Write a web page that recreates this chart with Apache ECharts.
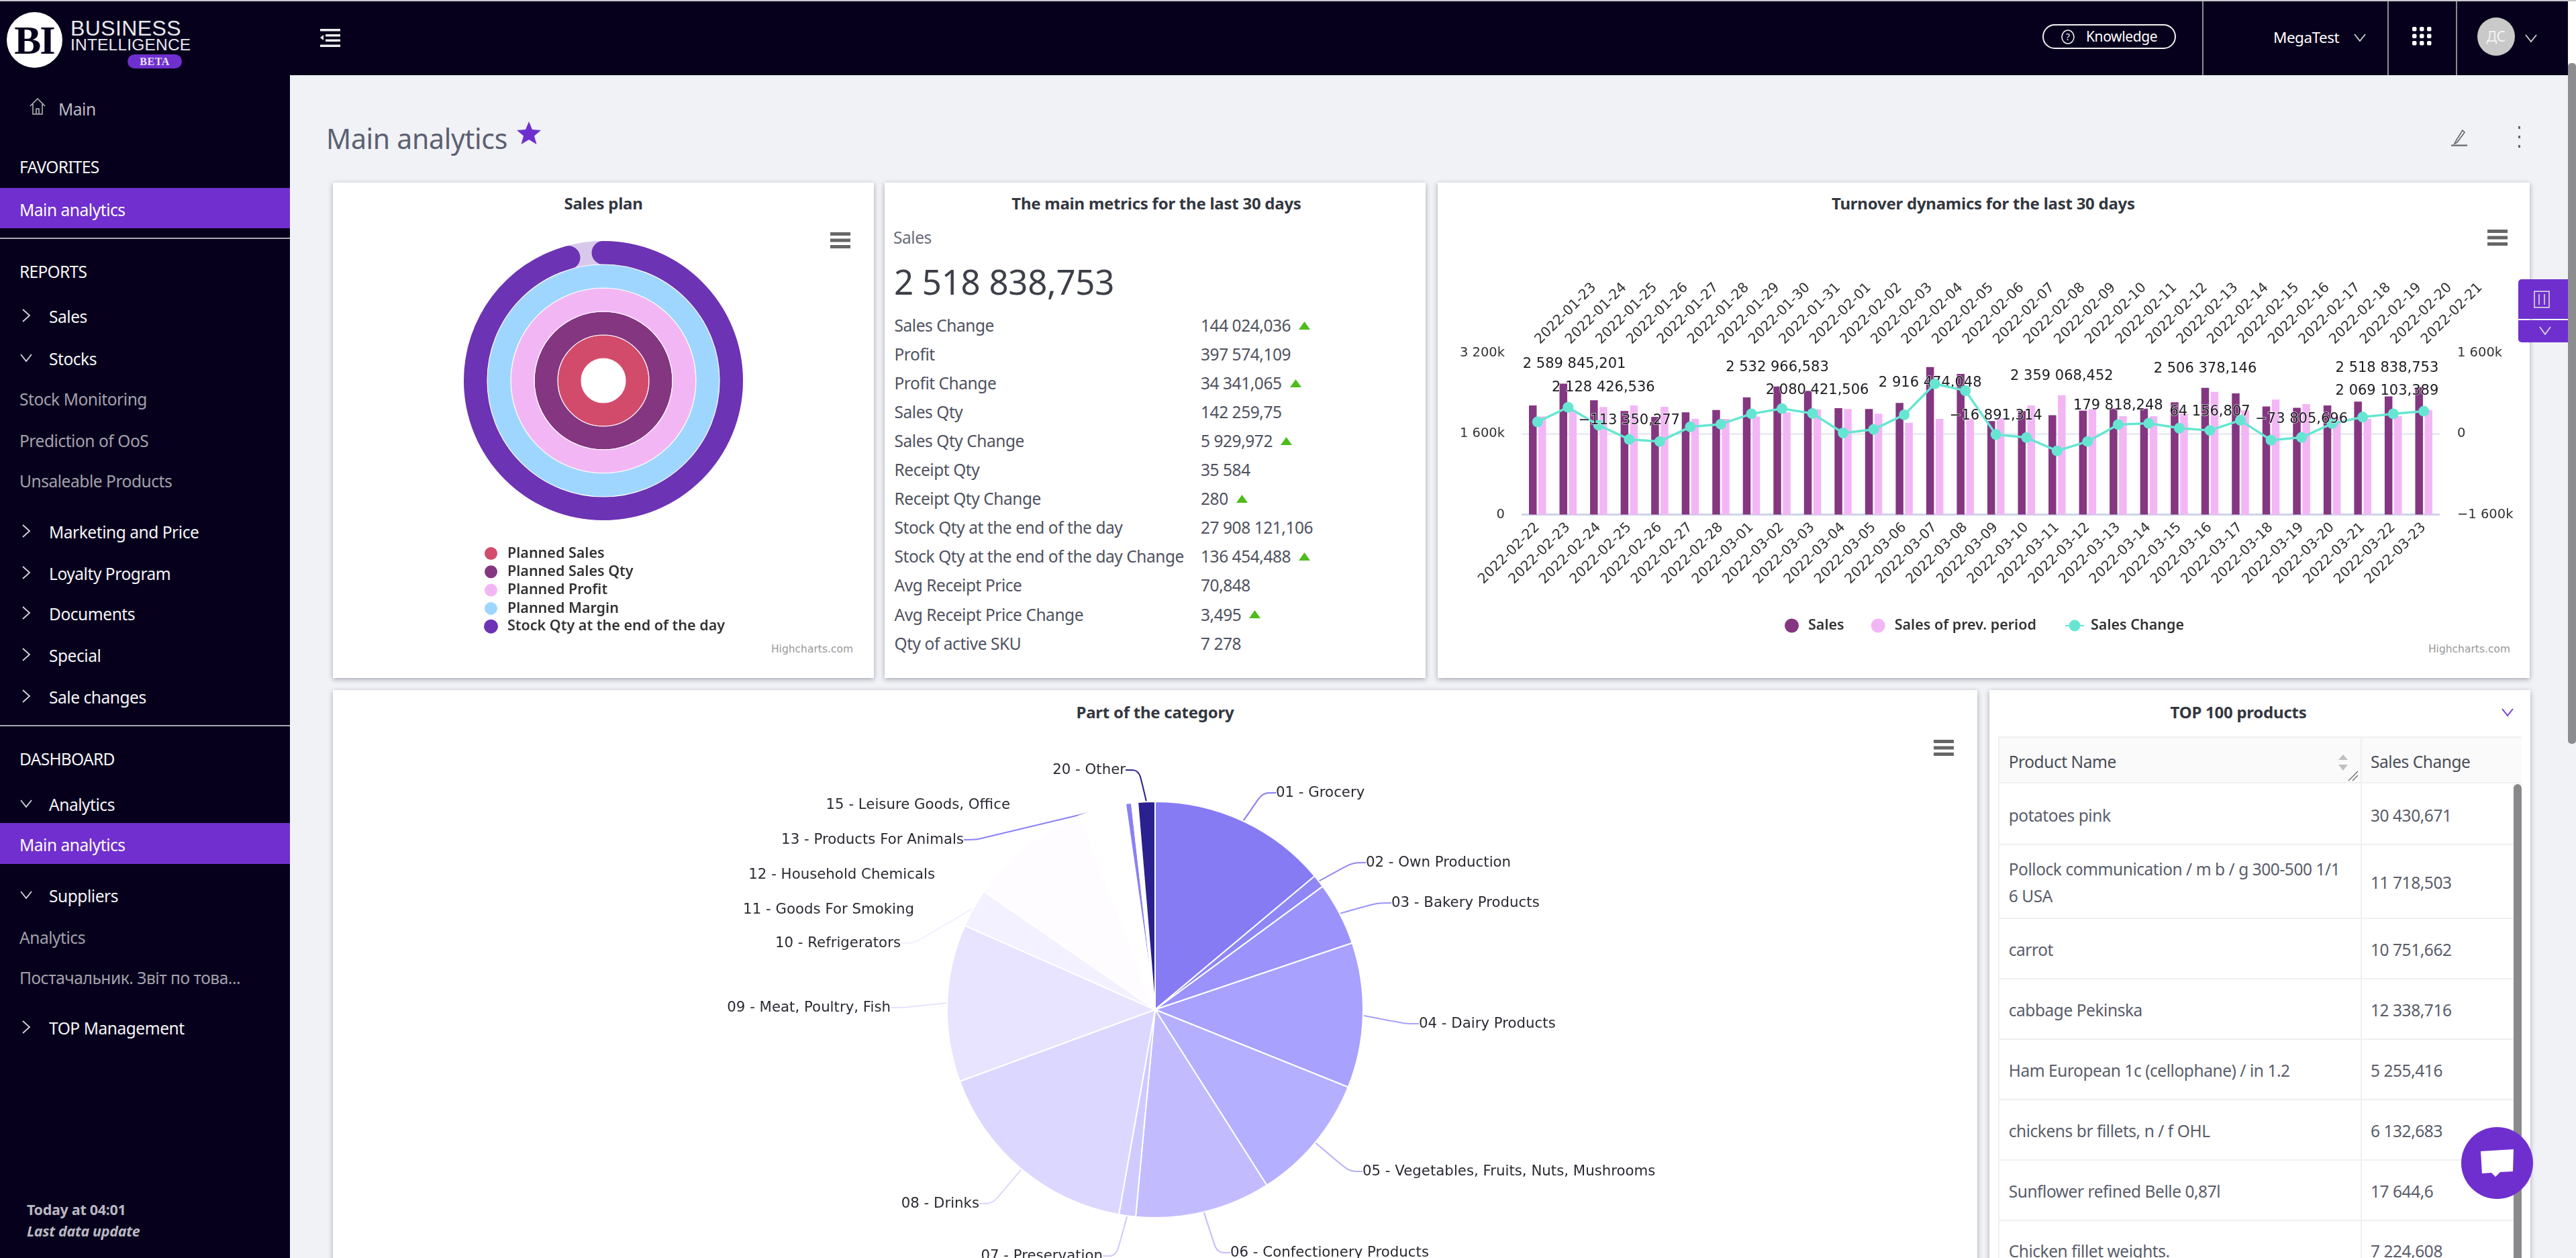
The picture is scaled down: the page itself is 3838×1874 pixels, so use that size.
<!DOCTYPE html>
<html><head><meta charset="utf-8"><title>Main analytics</title>
<script src="https://cdn.jsdelivr.net/npm/echarts@6/dist/echarts.min.js"></script>
<style>
html,body{margin:0;padding:0;width:3838px;height:1874px;overflow:hidden;background:#f0f2f6;font-family:"Noto Sans",sans-serif}
#ui,#chart,#top{position:absolute;left:0;top:0;width:3838px;height:1874px}
#chart{z-index:2}#ui{z-index:1}#top{z-index:3;pointer-events:none}
.t{position:absolute;white-space:nowrap;line-height:1.2}
.b{position:absolute;box-sizing:border-box}
.card{position:absolute;background:#fff;box-shadow:0 2px 7px rgba(40,40,60,.38)}
svg{position:absolute;overflow:visible}
</style></head><body>
<div id="ui"></div><div id="chart"></div><div id="top"></div>
<script>
// ---------- chart data ----------
const planNames=["Planned Sales","Planned Sales Qty","Planned Profit","Planned Margin","Stock Qty at the end of the day"];
const planValues=[100,100,100,100,95.6];
const currentDates=["2022-02-22","2022-02-23","2022-02-24","2022-02-25","2022-02-26","2022-02-27","2022-02-28","2022-03-01","2022-03-02","2022-03-03","2022-03-04","2022-03-05","2022-03-06","2022-03-07","2022-03-08","2022-03-09","2022-03-10","2022-03-11","2022-03-12","2022-03-13","2022-03-14","2022-03-15","2022-03-16","2022-03-17","2022-03-18","2022-03-19","2022-03-20","2022-03-21","2022-03-22","2022-03-23"];
const previousDates=["2022-01-23","2022-01-24","2022-01-25","2022-01-26","2022-01-27","2022-01-28","2022-01-29","2022-01-30","2022-01-31","2022-02-01","2022-02-02","2022-02-03","2022-02-04","2022-02-05","2022-02-06","2022-02-07","2022-02-08","2022-02-09","2022-02-10","2022-02-11","2022-02-12","2022-02-13","2022-02-14","2022-02-15","2022-02-16","2022-02-17","2022-02-18","2022-02-19","2022-02-20","2022-02-21"];
const salesValues=[2157000,2589845.201,2260000,2048000,1932000,2022000,2067000,2318000,2532966.583,2447000,2106000,2087000,2209000,2916474.048,2782000,1850000,2048000,1964000,2054000,2093000,2093000,2222000,2506378.146,2396000,2138000,2112000,2157000,2235000,2338000,2518838.753];
const prevValues=[1938000,2054000,2128426.536,2157000,2132000,1893000,1893000,1938000,2022000,2080421.506,2087000,1996000,1816000,1893000,1893000,1900000,2157000,2359068.452,2080000,1945000,1945000,1996000,2428000,2061000,2273000,2183000,1932000,1893000,1945000,2069103.389];
const changeValues=[232000,522000,167000,-113350.277,-155000,135000,187000,393000,496000,399000,13000,84000,373000,985000,850000,-16891.314,-77000,-341000,-155000,179818.248,206000,109000,64156.807,264000,-129000,-73805.696,200000,328000,393000,444000];
const salesLabelled=[1,8,13,22,29];
const prevLabelled=[2,9,17,29];
const changeLabelled=[3,15,19,22,25];
const categoryNames=["01 - Grocery","02 - Own Production","03 - Bakery Products","04 - Dairy Products","05 - Vegetables, Fruits, Nuts, Mushrooms","06 - Confectionery Products","07 - Preservation","08 - Drinks","09 - Meat, Poultry, Fish","10 - Refrigerators","11 - Goods For Smoking","12 - Household Chemicals","13 - Products For Animals","15 - Leisure Goods, Office","20 - Other"];
const categoryShares=[13.9,1.0,4.9,11.25,9.9,10.5,1.3,16.6,12.2,3.0,9.5,3.6,0.47,0.47,1.33];
const metricNames=["Sales Change","Profit","Profit Change","Sales Qty","Sales Qty Change","Receipt Qty","Receipt Qty Change","Stock Qty at the end of the day","Stock Qty at the end of the day Change","Avg Receipt Price","Avg Receipt Price Change","Qty of active SKU"];
const metricValues=["144 024,036","397 574,109","34 341,065","142 259,75","5 929,972","35 584","280","27 908 121,106","136 454,488","70,848","3,495","7 278"];
const metricRising=[true,false,true,false,true,false,true,false,true,false,true,false];
const productNames=["potatoes pink","Pollock communication / m b / g 300-500 1/1<br>6 USA","carrot","cabbage Pekinska","Ham European 1c (cellophane) / in 1.2","chickens br fillets, n / f OHL","Sunflower refined Belle 0,87l","Chicken fillet weights."];
const productChanges=["30 430,671","11 718,503","10 751,662","12 338,716","5 255,416","6 132,683","17 644,6","7 224,608"];

// ---------- style constants ----------
const PURPLE="#6f2fcf",DARK="#07001c",TXT="#4f5260",UI=24.5;
const planColors=["#d34b6b","#843681","#f3b6f5","#9fd6ff","#6c33b4"];
const categoryColors=["#867bf3","#9087f6","#9b93fb","#a8a1fe","#b5afff","#c2bcff","#cfcaff","#dcd7ff","#e8e3ff","#f3f0ff","#fefcff","#ffffff","#8a80f5","#ffffff","#2a2090"];
// label anchor: [x, y, align]
const pieLabelPlace=[[1901,1181,"left"],[2035,1285,"left"],[2073,1345,"left"],[2114,1525,"left"],[2030,1745,"left"],[1833,1866,"left"],[1643,1871,"right"],[1459,1793,"right"],[1327,1501,"right"],[1342,1405,"right"],[1362,1355,"right"],[1393,1303,"right"],[1436,1251,"right"],[1505,1199,"right"],[1677,1147,"right"]];

// ---------- DOM helpers ----------
const ui=document.getElementById("ui"),topLayer=document.getElementById("top");
function T(s,x,y,o={},p=ui){const e=document.createElement("div");e.className="t";e.innerHTML=s;
  const a=o.align||"left";const tx=a==="center"?"-50%":a==="right"?"-100%":"0";
  e.style.cssText+=`left:${x}px;top:${y+1.5}px;transform:translate(${tx},-50%);font-size:${o.size||UI}px;color:${o.color||TXT};font-weight:${o.weight||400};letter-spacing:${o.ls!==undefined?o.ls:-0.45}px;font-family:${o.font||'"Noto Sans"'};font-style:${o.style||"normal"};`;
  if(o.lh)e.style.lineHeight=o.lh+"px";p.appendChild(e);return e;}
function B(x,y,w,h,bg,o={},p=ui){const e=document.createElement("div");e.className=o.cls||"b";e.style.cssText+=`left:${x}px;top:${y}px;width:${w}px;height:${h}px;background:${bg};${o.css||""}`;p.appendChild(e);return e;}
function S(x,y,w,h,inner,p=ui){const e=document.createElement("div");e.style.cssText=`position:absolute;left:${x}px;top:${y}px;width:${w}px;height:${h}px`;
  e.innerHTML=`<svg width="${w}" height="${h}" viewBox="0 0 ${w} ${h}">${inner}</svg>`;p.appendChild(e);}
const chevR=(x,y,c="#d8d8de")=>S(x-6,y-10,12,20,`<path d="M1 1 L11 10 L1 19" fill="none" stroke="${c}" stroke-width="1.8"/>`);
const chevD=(x,y,c="#d8d8de")=>S(x-9,y-6,18,12,`<path d="M1 1 L9 11 L17 1" fill="none" stroke="${c}" stroke-width="1.8"/>`);
const burger=(x,y)=>S(x-15,y-12,30,24,`<rect y="0" width="30" height="5" fill="#666"/><rect y="9.5" width="30" height="5" fill="#666"/><rect y="19" width="30" height="5" fill="#666"/>`);

// ---------- frame ----------
B(0,0,3838,2,"#c9c9cc");
B(0,2,3826,110,DARK);
B(0,112,432,1762,DARK);
B(3826,2,12,92,"#fff");B(3826,94,12,1014,"#8d8d8f",{css:"border-radius:5px"});

// logo
B(10,18,83,83,"#fff",{css:"border-radius:50%"});
T("BI",51,58,{align:"center",size:60,weight:700,color:DARK,font:'"Liberation Serif"',ls:-2});
T("BUSINESS",105,40,{size:32,color:"#e8e8ee",ls:0.4,font:'"Liberation Sans"'});
T("INTELLIGENCE",105,65,{size:24.5,color:"#e8e8ee",ls:0.2,font:'"Liberation Sans"'});
B(190,81,81,21,PURPLE,{css:"border-radius:11px"});
T("BETA",230.5,90,{align:"center",size:16,weight:700,color:"#e9e4f6",font:'"Liberation Serif"',ls:0.5});
S(477,43,30,27,`<rect x="0" width="30" height="3.5" fill="#eee"/><rect x="8" y="8" width="22" height="3.5" fill="#eee"/><rect x="8" y="15.5" width="22" height="3.5" fill="#eee"/><rect x="0" y="23.5" width="30" height="3.5" fill="#eee"/><path d="M0 13 L5 9 L5 17Z" fill="#eee"/>`);

// header right
B(3043,36,199,37,"transparent",{css:"border:2px solid #f2f2f2;border-radius:19px"});
S(3071,44,20,22,`<ellipse cx="10" cy="11" rx="9" ry="10" fill="none" stroke="#eee" stroke-width="1.6"/><text x="10" y="16" font-size="14" fill="#eee" text-anchor="middle" font-family="Noto Sans">?</text>`);
T("Knowledge",3108,53.5,{size:21,color:"#fff",ls:-0.4});
B(3281,2,2,110,"#8b8894");B(3557,2,2,110,"#8b8894");B(3659,2,2,110,"#8b8894");
T("MegaTest",3387,53.5,{size:22.5,color:"#fff",ls:-0.5});chevD(3516,56,"#d0d0d0");
{let d="";for(let i=0;i<3;i++)for(let j=0;j<3;j++)d+=`<rect x="${i*11}" y="${j*10.5}" width="6.5" height="6.5" rx="2" fill="#fff"/>`;S(3594,40,30,30,d);}
B(3690.5,26,56,57,"#c9c9c9",{css:"border-radius:50%"});T("ДС",3718.5,53.5,{align:"center",size:21,color:"#f4f4f4",ls:-0.5});chevD(3771,57,"#d0d0d0");

// sidebar
const sideItems=[["Main",87,161,"w"],["FAVORITES",29,247,"h"],["REPORTS",29,403,"h"],["Sales",73,470,"w",">"],["Stocks",73,533,"w","v"],["Stock Monitoring",29,593,"d"],["Prediction of OoS",29,655,"d"],["Unsaleable Products",29,715,"d"],["Marketing and Price",73,791,"w",">"],["Loyalty Program",73,853,"w",">"],["Documents",73,913,"w",">"],["Special",73,975,"w",">"],["Sale changes",73,1037,"w",">"],["DASHBOARD",29,1129,"h"],["Analytics",73,1197,"w","v"],["Suppliers",73,1333,"w","v"],["Analytics",29,1395,"d"],["Постачальник. Звіт по това...",29,1455,"d"],["TOP Management",73,1530,"w",">"]];
for(const [s,x,y,k,c] of sideItems){T(s,x,y,{ls:k==="h"?-0.7:-0.45,color:k==="d"?"#a3a1ad":k==="w"&&s==="Main"?"#bdbcc6":"#f5f5f8"});if(c===">")chevR(39,y);if(c==="v")chevD(39,y);}
S(44,145,24,26,`<path d="M1 13 L12 2 L23 13 M5 10 V25 H19 V10 M10 25 V17 H14 V25" fill="none" stroke="#bbb" stroke-width="1.5"/>`);
B(0,280,432,60,"#702fce");T("Main analytics",29,311,{color:"#fff"});
B(0,354,432,2,"#a9a7b2");B(0,1080,432,2,"#a9a7b2");
B(0,1226,432,61,"#702fce");T("Main analytics",29,1257,{color:"#fff"});
T("Today at 04:01",40,1800,{size:21.5,weight:700,color:"#b9b8c2",ls:-0.3});
T("Last data update",40,1832,{size:21.5,weight:700,style:"italic",color:"#b9b8c2",ls:-0.3});

// page title
T("Main analytics",486,205,{size:41,color:"#5c6070",ls:-0.3});
S(770,180,36,36,`<path d="M18 1 L23 13 L36 14 L26 22.5 L29.5 35 L18 28 L6.5 35 L10 22.5 L0 14 L13 13Z" fill="${PURPLE}"/>`);
S(3652,190,24,28,`<path d="M7 20 L5 24 L9 22 L20 7 L17 4Z" fill="none" stroke="#666" stroke-width="1.6"/><rect x="0" y="25.5" width="24" height="2.2" fill="#666"/>`);
B(3752,188,3,4,"#666");B(3752,202,3,4,"#666");B(3752,216,3,4,"#666");

// cards
B(496,272,806,738,"#fff",{cls:"card"});
B(1318,272,806,738,"#fff",{cls:"card"});
B(2142,272,1627,738,"#fff",{cls:"card"});
B(496,1028,2450,900,"#fff",{cls:"card"});
B(2964,1028,806,900,"#fff",{cls:"card"});
const TT={size:24,weight:700,color:"#33373f",ls:-0.25};
T("Sales plan",899,301.5,{...TT,align:"center"});
T("The main metrics for the last 30 days",1723,301.5,{...TT,align:"center"});
T("Turnover dynamics for the last 30 days",2955,301.5,{...TT,align:"center"});
T("Part of the category",1721,1059,{...TT,align:"center"});
T("TOP 100 products",3335,1059,{...TT,align:"center"});
burger(1252,358);burger(3721,354);burger(2896,1114);
const hc={size:15.5,color:"#999",ls:0,font:'"DejaVu Sans"'};
T("Highcharts.com",1271,965.5,{...hc,align:"right"});T("Highcharts.com",3740,965.5,{...hc,align:"right"});

// metrics
T("Sales",1331,352,{color:"#6a6d78"});
T("2 518 838,753",1332,418.5,{size:51,color:"#3d4049",ls:-0.3});
metricNames.forEach((n,i)=>{const y=483.5+i*43.05;T(n,1332.5,y);
  const v=T(metricValues[i],1789,y);
  if(metricRising[i]){const w=v.getBoundingClientRect().width;S(1789+w+12,y-5,17,12,`<path d="M8.5 0 L17 12 L0 12Z" fill="#4fbb1c"/>`);}});

// table
B(2977,1097,780,69,"#fafafa");
B(3517,1097,2,777,"#f0f0f0");B(2977,1097,2,777,"#f0f0f0");B(2977,1097,780,2,"#f0f0f0");B(2977,1165,780,2,"#f0f0f0");
T("Product Name",2992.7,1133,{color:"#4a4d57"});T("Sales Change",3532,1133,{color:"#4a4d57"});
S(3484,1124,14,24,`<path d="M7 0 L14 8 L0 8Z M7 24 L14 15 L0 15Z" fill="#bfbfc4"/>`);
S(3498,1148,16,16,`<path d="M1 15 L15 1 M7 15 L15 7" stroke="#666" stroke-width="1.3"/>`);
const rowLines=[1256.6,1367,1457,1547,1637,1727,1817];
rowLines.forEach(y=>B(2977,y,768,2,"#f0f0f2"));
const rowCentres=[1213,1313,1413,1503,1593,1683,1773,1862.6];
productNames.forEach((n,i)=>{T(n,2992.7,rowCentres[i],{lh:40,color:"#5a5d6a"});T(productChanges[i],3532,rowCentres[i],{color:"#5a5d6a"});});
B(3745,1168,12,706,"#8a8a8c",{css:"border-radius:6px 6px 0 0"});

// right-hand controls and chat button
B(3752,416,74,59,PURPLE,{css:"border-radius:5px 0 0 0"},topLayer);
S(3775,433,24,26,`<rect x="1" y="1" width="22" height="24" fill="none" stroke="#ddd" stroke-width="1.6"/><path d="M8 5V21 M16 5V21" stroke="#ddd" stroke-width="1.6"/>`,topLayer);
B(3752,477,74,33,PURPLE,{css:"border-radius:0 0 0 5px"},topLayer);
S(3783,486,18,13,`<path d="M1 1 L9 12 L17 1" fill="none" stroke="#ddd" stroke-width="1.7"/>`,topLayer);
B(3666.5,1678.5,107,107,PURPLE,{css:"border-radius:50%"},topLayer);
S(3695,1711,51,45,`<path d="M1 4 L50 1 L49 34 L30 35 L23 42 L17 36 L3 37Z" fill="#fff"/>`,topLayer);
chevD(3736,1061,PURPLE);

// ---------- chart ----------
const fmtFull=v=>{const s=Math.abs(v).toFixed(3).split(".");return (v<0?"\u2212":"")+s[0].replace(/\B(?=(\d{3})+$)/g," ")+","+s[1];};
const fmtK=v=>{const k=Math.abs(v)/1000;return v===0?"0":(v<0?"\u2212":"")+String(k).replace(/\B(?=(\d{3})+$)/g," ")+"k";};
const CF='"DejaVu Sans"';
const plotL=2268,plotR=3634,plotT=525;
// keep a data label inside the plot: push it sideways at the edges, drop it below the bar top when there is no room above
const justify=p=>{const r=p.labelRect;return {dx:r.x<plotL?plotL-r.x:(r.x+r.width>plotR?plotR-r.x-r.width:0),dy:r.y<plotT?52:0};};
const labelled=(vals,idx)=>vals.map((v,i)=>idx.includes(i)?{value:v,label:{show:true,formatter:()=>fmtFull(v)}}:v);
const lblStyle={position:"top",fontFamily:CF,fontSize:21,color:"#1c1c22",textBorderColor:"rgba(255,255,255,.75)",textBorderWidth:1.5};
const legText={fontFamily:'"Noto Sans"',fontSize:21.5,fontWeight:600,color:"#333",lineHeight:21};
const dateAxis=(data,pos,col)=>({type:"category",gridIndex:0,position:pos,data,
  axisTick:{show:false},axisLine:{show:true,lineStyle:{color:col,width:3}},splitLine:{show:false},
  axisLabel:{interval:0,rotate:45,fontFamily:CF,fontSize:20.5,color:"#333",margin:16,hideOverlap:false}});
const option={
 animation:false,backgroundColor:"transparent",
 legend:[
  {data:planNames,orient:"vertical",left:715,top:808,itemWidth:21,itemHeight:21,itemGap:4.3,icon:"circle",selectedMode:false,textStyle:{...legText,padding:[0,0,0,9]}},
  {data:["Sales","Sales of prev. period"],left:2654,top:916,itemWidth:21,itemHeight:21,itemGap:40,icon:"circle",selectedMode:false,textStyle:{...legText,padding:[0,0,0,9]}},
  {data:["Sales Change"],left:3071,top:916,itemWidth:28,itemHeight:21,selectedMode:false,textStyle:{...legText,padding:[0,0,0,5]}}
 ],
 polar:{center:[899,567],radius:[33,208]},
 angleAxis:{min:0,max:100,startAngle:90,clockwise:true,show:false},
 radiusAxis:{type:"category",data:planNames,show:false},
 grid:{left:plotL,top:525.5,width:plotR-plotL,height:241,containLabel:false},
 xAxis:[dateAxis(currentDates,"bottom","#cdd3e8"),dateAxis(previousDates,"top","#e8ebf4")],
 yAxis:[
  {type:"value",min:0,max:3200000,interval:1600000,position:"left",splitLine:{show:false},axisLine:{show:false},axisTick:{show:false},
   axisLabel:{formatter:fmtK,fontFamily:CF,fontSize:19.5,color:"#333",margin:26}},
  {type:"value",min:-1600000,max:1600000,interval:1600000,position:"right",splitLine:{show:false},axisLine:{show:false},axisTick:{show:false},
   axisLabel:{formatter:fmtK,fontFamily:CF,fontSize:19.5,color:"#333",margin:27}}
 ],
 series:[
  ...planNames.map((n,i)=>({type:"bar",name:n,coordinateSystem:"polar",polarIndex:0,barGap:"-100%",barCategoryGap:"0%",
    data:planNames.map((_,j)=>j===i?planValues[i]:null),z:i===4?3:4,roundCap:i===4,
    showBackground:i===4,backgroundStyle:{color:"#d8c9ec"},
    itemStyle:{color:planColors[i],borderColor:i===4?"transparent":"#fff",borderWidth:i===4?0:1.2}})),
  {type:"bar",name:"Sales",xAxisIndex:0,yAxisIndex:0,barWidth:11.5,barGap:"22%",data:labelled(salesValues,salesLabelled),
   itemStyle:{color:"#843681"},label:{...lblStyle,distance:18},labelLayout:justify},
  {type:"bar",name:"Sales of prev. period",xAxisIndex:0,yAxisIndex:0,barWidth:11.5,barGap:"22%",data:labelled(prevValues,prevLabelled),
   itemStyle:{color:"#f3b6f5"},label:{...lblStyle,distance:18},labelLayout:justify},
  {type:"line",name:"Sales Change",xAxisIndex:0,yAxisIndex:1,data:labelled(changeValues,changeLabelled),z:6,
   symbol:"circle",symbolSize:16,showAllSymbol:true,lineStyle:{color:"#66e6d2",width:3.5},itemStyle:{color:"#66e6d2"},label:{...lblStyle,distance:9},labelLayout:justify},
  {type:"pie",name:"Part of the category",center:[1721,1504],radius:[0,310],startAngle:90,clockwise:true,avoidLabelOverlap:false,minShowLabelAngle:0,
   data:categoryNames.map((n,i)=>({name:n,value:categoryShares[i],itemStyle:{color:categoryColors[i]}})),
   itemStyle:{borderColor:"#fff",borderWidth:2},
   label:{show:true,position:"outside",fontFamily:CF,fontSize:21.3,color:"#2a2a33"},
   labelLine:{show:true,smooth:true,length:30,length2:20,lineStyle:{width:2}},
   labelLayout:p=>{const a=pieLabelPlace[p.dataIndex];return {x:a[0],y:a[1],align:a[2],verticalAlign:"middle"};}}
 ]
};
const chart=echarts.init(document.getElementById("chart"),null,{width:3838,height:1874,renderer:"canvas"});
chart.setOption(option);
</script></body></html>
